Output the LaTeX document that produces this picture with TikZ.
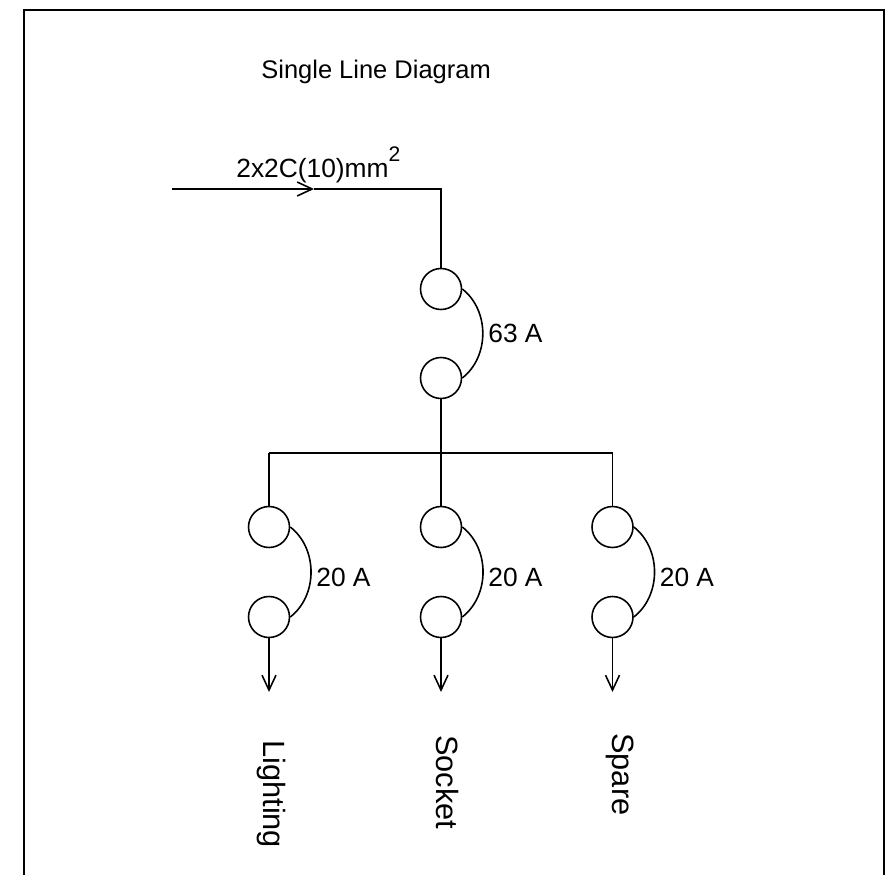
\documentclass[tikz,border=0pt]{standalone}
\usepackage{fontspec}
\setmainfont{Liberation Sans}
\usepackage{tikz}
\usetikzlibrary{arrows.meta, positioning}

\begin{document}
\begin{tikzpicture}
  [
    Breaker/.style={circle, draw=black, line width=0.9pt, minimum size=8.2mm, inner sep=0pt},
    Rating/.style={font=\fontsize{15}{18}\selectfont, inner sep=0pt, anchor=west},
    Load/.style={font=\fontsize{17.5}{21}\selectfont, rotate=-90, anchor=west, inner sep=0pt},
    Wire/.style={draw, line width=0.9pt},
    Feed/.style={-{Straight Barb[length=3mm, width=2.8mm]}}
  ]
  \useasboundingbox (0,0) rectangle (17.82,-17.5);

  % Frame
  \draw[line width=0.9pt] (0.48,-17.5) |- (17.68,-0.2) -- (17.68,-17.5);

  % Nodes
  \node[anchor=base west, inner sep=0pt, font=\fontsize{14.5}{17}\selectfont] (title) at (5.22,-1.58) {Single Line Diagram};

  \coordinate (feed) at (3.44,-3.78);
  \coordinate (feedTip) at (6.28,-3.78);
  \coordinate (feedCorner) at (8.82,-3.78);
  \node[anchor=base west, inner sep=0pt, font=\fontsize{15}{18}\selectfont] (cable) at (4.72,-3.56) {2x2C(10)mm\raisebox{0.62em}{\fontsize{12}{14}\selectfont 2}};

  \node[Breaker] (mainTop) at (8.82,-5.78) {};
  \node[Breaker] (mainBot) at (8.82,-7.56) {};
  \node[Rating] (mainRate) at (9.76,-6.66) {63 A};

  \coordinate (busL) at (5.38,-9.06);
  \coordinate (busM) at (8.82,-9.06);
  \coordinate (busR) at (12.25,-9.06);

  \node[Breaker] (lgtTop) at (5.38,-10.54) {};
  \node[Breaker] (lgtBot) at (5.38,-12.34) {};
  \node[Rating] (lgtRate) at (6.32,-11.54) {20 A};
  \coordinate (lgtEnd) at (5.38,-13.84);
  \node[Load] (lgt) at (5.42,-14.8) {Lighting};

  \node[Breaker] (sktTop) at (8.82,-10.54) {};
  \node[Breaker] (sktBot) at (8.82,-12.34) {};
  \node[Rating] (sktRate) at (9.76,-11.54) {20 A};
  \coordinate (sktEnd) at (8.82,-13.84);
  \node[Load] (skt) at (8.94,-14.7) {Socket};

  \node[Breaker] (spaTop) at (12.25,-10.54) {};
  \node[Breaker] (spaBot) at (12.25,-12.34) {};
  \node[Rating] (spaRate) at (13.19,-11.54) {20 A};
  \coordinate (spaEnd) at (12.25,-13.84);
  \node[Load] (spa) at (12.4,-14.66) {Spare};

  % Lines
  \path [Wire, Feed] (feed) -- (feedTip);
  \path [Wire] (feedTip) -- (feedCorner) -- (mainTop);
  \path [Wire] (mainTop.east) to[bend left=52] (mainBot.east);
  \path [Wire] (mainBot) -- (busM);
  \path [Wire] (busL) -- (busR);

  \path [Wire] (busL) -- (lgtTop);
  \path [Wire] (lgtTop.east) to[bend left=52] (lgtBot.east);
  \path [Wire, Feed] (lgtBot) -- (lgtEnd);

  \path [Wire] (busM) -- (sktTop);
  \path [Wire] (sktTop.east) to[bend left=52] (sktBot.east);
  \path [Wire, Feed] (sktBot) -- (sktEnd);

  \path [Wire] (busR) -- (spaTop);
  \path [Wire] (spaTop.east) to[bend left=52] (spaBot.east);
  \path [Wire, Feed] (spaBot) -- (spaEnd);

\end{tikzpicture}
\end{document}
